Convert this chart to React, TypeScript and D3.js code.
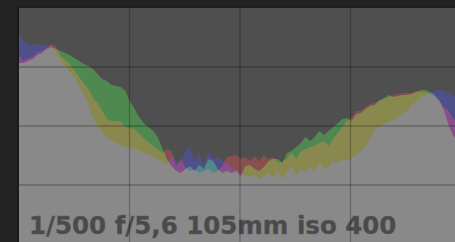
import React, { useEffect, useRef } from 'react';
import * as d3 from 'd3';

// histogram bins (arbitrary counts), 96 bins from shadows to highlights
const redCounts = [
  188, 183, 186, 187, 192, 193, 196, 200, 197, 188, 184, 180, 173, 167, 161, 155,
  146, 141, 133, 125, 123, 123, 122, 117, 116, 115, 110, 106, 102, 98, 95, 91,
  95, 93, 78, 85, 77, 73, 75, 71, 73, 75, 71, 73, 78, 87, 88, 89,
  85, 87, 83, 88, 83, 89, 85, 87, 81, 83, 85, 91, 85, 93, 95, 97,
  98, 101, 103, 98, 105, 111, 117, 123, 127, 133, 133, 137, 140, 141, 143, 145,
  147, 149, 150, 151, 151, 151, 153, 152, 152, 150, 147, 143, 137, 133, 125, 121,
];
const greenCounts = [
  181, 181, 183, 185, 189, 191, 195, 197, 195, 193, 191, 189, 186, 183, 180, 178,
  175, 170, 165, 163, 159, 158, 157, 153, 143, 135, 127, 121, 117, 113, 107, 96,
  85, 78, 73, 71, 75, 78, 73, 79, 75, 85, 83, 75, 71, 73, 71, 73,
  68, 78, 79, 75, 73, 77, 83, 85, 85, 81, 91, 93, 97, 101, 107, 103,
  107, 113, 109, 113, 117, 121, 125, 126, 123, 130, 131, 135, 138, 139, 144, 146,
  149, 147, 148, 149, 149, 150, 152, 154, 154, 152, 149, 143, 133, 118, 108, 103,
];
const blueCounts = [
  210, 203, 200, 199, 200, 199, 199, 198, 191, 183, 178, 172, 166, 158, 150, 140,
  126, 118, 112, 106, 103, 101, 99, 97, 96, 95, 93, 91, 90, 87, 85, 83,
  78, 88, 83, 81, 93, 97, 83, 91, 78, 93, 85, 87, 83, 81, 77, 75,
  71, 68, 67, 69, 65, 68, 71, 67, 73, 65, 71, 78, 68, 75, 71, 77,
  73, 81, 75, 77, 83, 81, 85, 83, 86, 89, 93, 98, 105, 115, 117, 120,
  122, 124, 127, 131, 133, 139, 143, 147, 149, 151, 153, 154, 153, 151, 148, 147,
];
const exifLabel = '1/500 f/5,6 105mm iso 400';

const channels = [
  { name: 'red', counts: redCounts, fill: 'rgb(84,0,0)' },
  { name: 'green', counts: greenCounts, fill: 'rgb(0,84,0)' },
  { name: 'blue', counts: blueCounts, fill: 'rgb(0,0,84)' },
];

export default function App() {
  const svgRef = useRef<SVGSVGElement>(null);

  const width = 455;
  const height = 242;
  const plot = { left: 19, top: 8, right: 461, bottom: 244 };

  useEffect(() => {
    const svg = d3.select(svgRef.current);
    svg.selectAll('*').remove();

    const n = redCounts.length;
    const x = d3.scaleLinear().domain([0, n - 1]).range([plot.left, 458]);
    const y = d3.scaleLinear().domain([0, 236]).range([plot.bottom, plot.top]);

    // frame
    svg.append('rect')
      .attr('width', width).attr('height', height)
      .attr('fill', '#232323');
    svg.append('line')
      .attr('x1', plot.left - 1).attr('x2', plot.left - 1)
      .attr('y1', plot.top - 1).attr('y2', height)
      .attr('stroke', '#1a1a1a').attr('stroke-width', 2);
    svg.append('line')
      .attr('x1', plot.left - 1).attr('x2', width)
      .attr('y1', plot.top - 1).attr('y2', plot.top - 1)
      .attr('stroke', '#1c1c1c').attr('stroke-width', 1.5);

    const g = svg.append('g').style('isolation', 'isolate');
    g.append('rect')
      .attr('x', plot.left).attr('y', plot.top)
      .attr('width', plot.right - plot.left).attr('height', plot.bottom - plot.top)
      .attr('fill', '#4f4f4f');

    const area = d3.area<number>()
      .x((d, i) => x(i))
      .y0(y(0))
      .y1(d => y(d))
      .curve(d3.curveLinear);

    g.selectAll('path.channel')
      .data(channels)
      .enter()
      .append('path')
      .attr('class', 'channel')
      .attr('d', d => area(d.counts))
      .attr('fill', d => d.fill)
      .style('mix-blend-mode', 'screen');

    svg.append('text')
      .attr('x', 29)
      .attr('y', 234)
      .attr('font-family', 'DejaVu Sans')
      .attr('font-weight', 'bold')
      .attr('font-size', 24.5)
      .attr('fill', '#4a4a4a')
      .attr('stroke', '#5a5a5a')
      .attr('stroke-width', 0.5)
      .text(exifLabel);

    // grid on top of the histogram
    const gx = d3.scaleLinear().domain([0, 4]).range([plot.left, plot.right]);
    const gy = d3.scaleLinear().domain([0, 4]).range([plot.top, plot.bottom]);
    svg.append('g')
      .selectAll('line')
      .data([1, 2, 3])
      .enter()
      .append('line')
      .attr('x1', d => gx(d)).attr('x2', d => gx(d))
      .attr('y1', plot.top).attr('y2', plot.bottom)
      .attr('stroke', 'rgba(0,0,0,0.25)').attr('stroke-width', 1.3);
    svg.append('g')
      .selectAll('line')
      .data([1, 2, 3])
      .enter()
      .append('line')
      .attr('x1', plot.left).attr('x2', plot.right)
      .attr('y1', d => gy(d)).attr('y2', d => gy(d))
      .attr('stroke', 'rgba(0,0,0,0.25)').attr('stroke-width', 1.3);
  }, []);

  return (
    <svg
      ref={svgRef}
      width={width}
      height={height}
      style={{ position: 'absolute', left: 0, top: 0, display: 'block' }}
    />
  );
}
